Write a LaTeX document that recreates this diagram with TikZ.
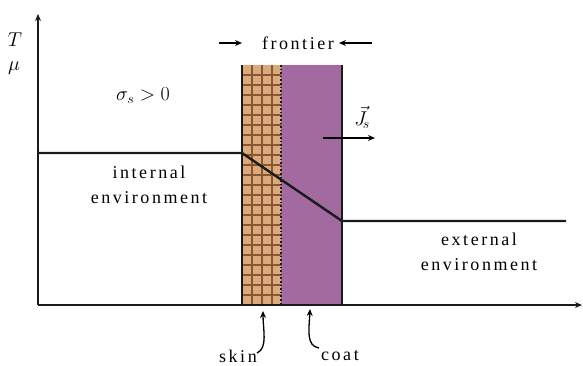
\RequirePackage{fix-cm}
\documentclass[tikz,border=0pt]{standalone}
\usepackage{fontspec}
\setmainfont{Liberation Serif}
\newfontfamily\tms[LetterSpace=14]{Liberation Serif}
\usetikzlibrary{arrows.meta}
\definecolor{skincol}{HTML}{DBA97E}
\definecolor{gridcol}{HTML}{8A5630}
\definecolor{coatcol}{HTML}{A26A9F}
\definecolor{linecol}{HTML}{1A1A1A}
\tikzset{
  axis/.style={line width=1.6pt, draw=linecol, -{Stealth[length=7pt,width=6pt]}},
  profile/.style={line width=2.4pt, draw=linecol},
  lbl/.style={font=\fontsize{18}{25}\selectfont\tms, align=center, inner sep=0pt},
  mlbl/.style={font=\fontsize{20}{25}\selectfont, inner sep=0pt},
  smallarrow/.style={line width=1.2pt, -{Stealth[length=7pt,width=6pt]}},
  curvearrow/.style={line width=1.3pt, -{Stealth[length=7pt,width=6pt]}}
}
\begin{document}
\begin{tikzpicture}[x=1pt,y=-1pt]
\useasboundingbox (0,0) rectangle (583,365);
% regions
\fill[skincol] (242,65) rectangle (281,305);
\fill[coatcol] (281,65) rectangle (342,305);
\foreach \x in {252,262,272} \draw[gridcol, line width=1.2pt] (\x,65) -- (\x,305);
\foreach \y in {75,85,...,300} \draw[gridcol, line width=1.2pt] (242,\y) -- (281,\y);
\draw[linecol, line width=1.6pt, dotted] (281,65) -- (281,305);
\draw[linecol, line width=2pt] (242,65) -- (242,305);
\draw[linecol, line width=2pt] (342,65) -- (342,305);
% axes
\coordinate (o) at (38,305);
\coordinate (ytop) at (38,14);
\coordinate (xend) at (582,305);
\draw[axis] (o) -- (ytop);
\draw[axis] (o) -- (xend);
% profile
\coordinate (p0) at (38,153);
\coordinate (p1) at (242,153);
\coordinate (p2) at (342,221);
\coordinate (p3) at (566,221);
\draw[profile] (p0) -- (p1) -- (p2) -- (p3);
% labels
\node[mlbl] (T) at (15,40) {$T$};
\node[mlbl] (mu) at (14,68) {$\mu$};
\node[mlbl] (sigma) at (143,96) {$\sigma_s>0$};
\node[lbl] (int) at (149,185) {internal\\environment};
\node[lbl] (ext) at (479,252) {external\\environment};
\node[lbl] (fr) at (298,43) {frontier};
\node[mlbl] (J) at (362,117) {$\vec{J}_{\!s}$};
\node[lbl, anchor=base] (skin) at (238,362) {skin};
\node[lbl, anchor=base] (coat) at (340,360) {coat};
% frontier arrows
\coordinate (fa1) at (219,43);
\coordinate (fa1e) at (242,43);
\coordinate (fa2) at (372,43);
\coordinate (fa2e) at (339,43);
\draw[smallarrow] (fa1) -- (fa1e);
\draw[smallarrow] (fa2) -- (fa2e);
% flux arrow
\coordinate (j0) at (323,138);
\coordinate (j1) at (375,138);
\draw[smallarrow] (j0) -- (j1);
% pointer arrows
\coordinate (sk0) at (257,353);
\coordinate (sk1) at (263,311);
\coordinate (ct0) at (319,348);
\coordinate (ct1) at (310,309);
\draw[curvearrow] (sk0) .. controls (268,348) and (263,330) .. (sk1);
\draw[curvearrow] (ct0) .. controls (306,346) and (309,330) .. (ct1);
\end{tikzpicture}
\end{document}
